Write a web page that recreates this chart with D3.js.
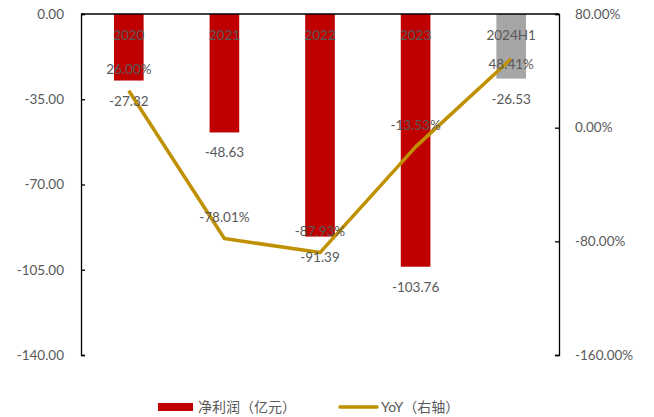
<!DOCTYPE html>
<html>
<head>
<meta charset="utf-8">
<script src="https://cdn.jsdelivr.net/npm/d3@7"></script>
<style>
body { margin: 0; background: #fff; }
text { font-family: Lato, "Noto Sans CJK SC", sans-serif; }
</style>
</head>
<body>
<svg width="654" height="417"></svg>
<script>
var categories = ["2020", "2021", "2022", "2023", "2024H1"];
var profit = [-27.32, -48.63, -91.39, -103.76, -26.53];
var yoy = [26.00, -78.01, -87.93, -13.53, 48.41];
var leftTicks = [0, -35, -70, -105, -140];
var rightTicks = [80, 0, -80, -160];

var svg = d3.select("svg");
var plotLeft = 81, plotRight = 559, plotTop = 14, plotBottom = 355;
var grey = "#595959";
var fmt = d3.formatLocale({decimal: ".", thousands: ",", grouping: [3], currency: ["", ""], minus: "-"}).format(".2f");
var pct = function(d) { return fmt(d) + "%"; };

var x = d3.scaleBand()
  .domain(categories)
  .range([plotLeft, plotRight])
  .paddingInner(0.69)
  .paddingOuter(0.345);

var y = d3.scaleLinear().domain([0, -140]).range([plotTop, plotBottom]);
var y2 = d3.scaleLinear().domain([80, -160]).range([plotTop, plotBottom]);

// bars
svg.selectAll("rect.bar")
  .data(profit)
  .enter()
  .append("rect")
  .attr("class", "bar")
  .attr("x", function(d, i) { return x(categories[i]); })
  .attr("y", y(0))
  .attr("width", x.bandwidth())
  .attr("height", function(d) { return y(d) - y(0); })
  .attr("fill", function(d, i) { return i == 4 ? "#A6A6A6" : "#C00000"; });

// left axis
var gLeft = svg.append("g")
  .attr("transform", "translate(" + plotLeft + ",0)")
  .call(d3.axisLeft(y).tickValues(leftTicks).tickSizeInner(-4).tickSizeOuter(-4).tickPadding(17)
    .tickFormat(fmt));
gLeft.select(".domain").attr("stroke", "#000").attr("stroke-width", 1.3);
gLeft.selectAll(".tick line").attr("stroke", "#000").attr("stroke-width", 1.3);
gLeft.selectAll(".tick text").attr("fill", grey).style("font-size", "13.5px");

// right axis
var gRight = svg.append("g")
  .attr("transform", "translate(" + plotRight + ",0)")
  .call(d3.axisRight(y2).tickValues(rightTicks).tickSizeInner(-4).tickSizeOuter(-4).tickPadding(16)
    .tickFormat(pct));
gRight.select(".domain").attr("stroke", "#000").attr("stroke-width", 1.3);
gRight.selectAll(".tick line").attr("stroke", "#000").attr("stroke-width", 1.3);
gRight.selectAll(".tick text").attr("fill", grey).style("font-size", "13.5px");

// category axis at zero
svg.append("line")
  .attr("x1", plotLeft).attr("x2", plotRight)
  .attr("y1", y(0)).attr("y2", y(0))
  .attr("stroke", "#000").attr("stroke-width", 1.3);

svg.selectAll("text.cat")
  .data(categories)
  .enter()
  .append("text")
  .attr("class", "cat")
  .attr("x", function(d) { return x(d) + x.bandwidth() / 2; })
  .attr("y", y(0) + 26)
  .attr("text-anchor", "middle")
  .attr("fill", grey)
  .style("font-size", "13.5px")
  .text(function(d) { return d; });

// line
var line = d3.line()
  .x(function(d, i) { return x(categories[i]) + x.bandwidth() / 2; })
  .y(function(d) { return y2(d); });

svg.append("path")
  .datum(yoy)
  .attr("d", line)
  .attr("fill", "none")
  .attr("stroke", "#BF9000")
  .attr("stroke-width", 3.5)
  .attr("stroke-linejoin", "round");

// bar labels
svg.selectAll("text.barlab")
  .data(profit)
  .enter()
  .append("text")
  .attr("class", "barlab")
  .attr("x", function(d, i) { return x(categories[i]) + x.bandwidth() / 2; })
  .attr("y", function(d) { return y(d) + 25; })
  .attr("text-anchor", "middle")
  .attr("fill", grey)
  .style("font-size", "13.5px")
  .text(fmt);

// yoy labels
svg.selectAll("text.yoylab")
  .data(yoy)
  .enter()
  .append("text")
  .attr("class", "yoylab")
  .attr("x", function(d, i) { return x(categories[i]) + x.bandwidth() / 2; })
  .attr("y", function(d, i) { return i == 4 ? y2(d) + 10 : y2(d) - 17; })
  .attr("text-anchor", "middle")
  .attr("fill", grey)
  .style("font-size", "13.5px")
  .text(pct);

// legend
var lg = svg.append("g").attr("transform", "translate(0,407)");
lg.append("rect").attr("x", 158).attr("y", -4).attr("width", 35).attr("height", 8).attr("fill", "#C00000");
lg.append("text").attr("x", 198).attr("y", 5).attr("fill", grey).style("font-size", "14px").text("净利润（亿元）");
lg.append("line").attr("x1", 340).attr("x2", 377).attr("y1", 0).attr("y2", 0)
  .attr("stroke", "#BF9000").attr("stroke-width", 3.5).attr("stroke-linecap", "round");
lg.append("text").attr("x", 381).attr("y", 5).attr("fill", grey).style("font-size", "14px").text("YoY（右轴）");
</script>
</body>
</html>
